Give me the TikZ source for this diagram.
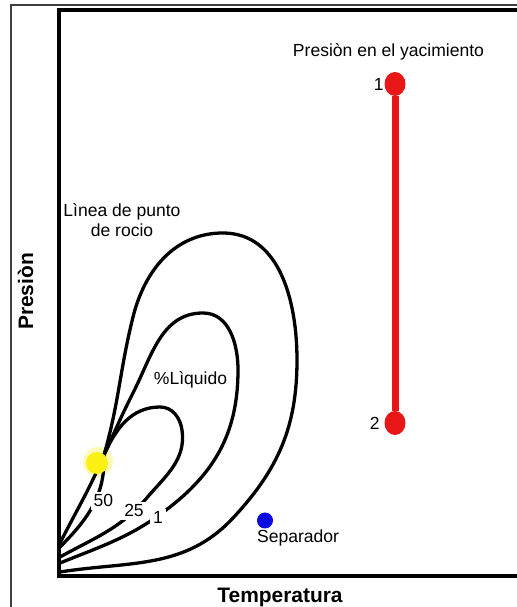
\documentclass[tikz,border=0pt]{standalone}
\usepackage{fontspec}
\setmainfont{Liberation Sans}
\usetikzlibrary{positioning,shapes.geometric}
\definecolor{presred}{RGB}{232,22,22}
\definecolor{crityellow}{RGB}{250,240,20}
\definecolor{sepblue}{RGB}{10,10,225}

\begin{document}
\begin{tikzpicture}[x=1bp,y=1bp,
envline/.style={line width=3.3bp, black},
axisline/.style={line width=4.5bp, black},
txt/.style={font=\fontsize{17.6}{21}\selectfont, inner sep=0pt},
numlbl/.style={txt, fill=white, inner sep=3bp},
axislbl/.style={font=\fontsize{21}{25}\selectfont\bfseries, inner sep=0pt},
reddot/.style={ellipse, fill=presred, minimum width=21bp, minimum height=24bp, inner sep=0pt},
]
\useasboundingbox (0,0) rectangle (517,607);
% marco y ejes
\draw[line width=1.3bp, black!75] (11,0) -- (11,602) -- (517,602);
\draw[axisline] (517,597) -- (59,597) -- (59,31) -- (517,31);

\coordinate (crit) at (104,152);
\node[circle, fill=crityellow!30, minimum size=30bp, inner sep=0pt] (glow) at (98,145) {};

% linea de punto de rocio
\draw[envline] (60,35) to[out=9,in=-133] (233,89)
  to[out=47,in=-90] (297,247) to[out=90,in=0] (223,374)
  to[out=180,in=76] (133,290) to[out=-104,in=74] (crit);
% 1 %
\draw[envline] (60,44) to[out=22,in=-142] (170,100)
  to[out=38,in=-90] (238,237) to[out=90,in=0] (203,294)
  to[out=180,in=63] (133,214) to[out=-117,in=65] (crit);
% 25 %
\draw[envline] (60,50) to[out=29,in=-132] (145,107)
  to[out=50,in=-82] (182,177) to[out=98,in=0] (160,200)
  to[out=180,in=66] (crit);
% 50 % y linea de burbuja
\draw[envline] (crit) to[out=-88,in=45] (60,60);
\draw[envline] (crit) to[out=-113,in=63] (60,64);

% etiquetas sobre las curvas
\node[numlbl, anchor=base] (l50) at (103.5,100) {50};
\node[numlbl, anchor=base] (l25) at (134,90) {25};
\node[numlbl, anchor=base] (l1) at (158,83) {1};

\node[txt, anchor=base] (yac) at (388.5,550) {Presiòn en el yacimiento};
\node[txt, align=center, anchor=base] (rocio) at (122,370) {Lìnea de punto\\de rocio};
\node[txt, anchor=base] (liq) at (190.5,222) {\%Lìquido};
\node[txt, anchor=base west] (sep) at (257,64) {Separador};
\node[axislbl, anchor=base] (temp) at (280,4) {Temperatura};
\node[axislbl, anchor=base, rotate=90] (pres) at (33,315.5) {Presiòn};

% puntos
\node[reddot] (p1) at (395,523) {};
\node[reddot] (p2) at (395,184) {};
\draw[line width=7bp, presred] (p1) -- (p2);
\node[txt, left=0.5bp of p1] (n1) {1};
\node[txt, left=4.5bp of p2] (n2) {2};
\node[circle, fill=sepblue, minimum size=16bp, inner sep=0pt] (sepdot) at (265,86.5) {};
\node[circle, fill=crityellow, minimum size=22bp, inner sep=0pt] (critdot) at (97,144) {};
\end{tikzpicture}
\end{document}
